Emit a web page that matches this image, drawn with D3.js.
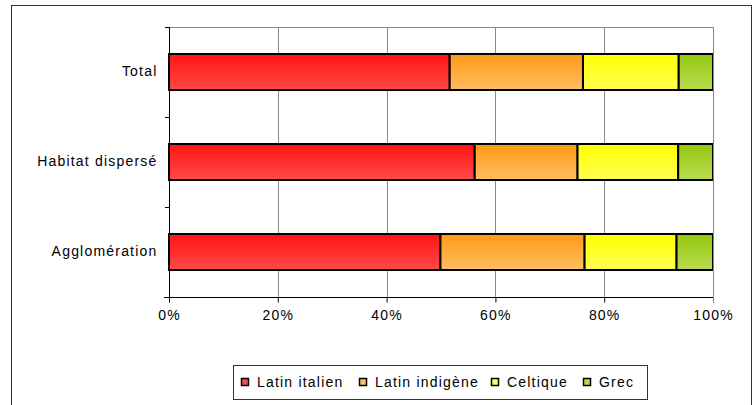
<!DOCTYPE html>
<html>
<head>
<meta charset="utf-8">
<script src="https://cdn.jsdelivr.net/npm/d3@7"></script>
<style>
  body { margin: 0; background: #fff; }
  text { font-family: "Liberation Sans", Arial, sans-serif; font-size: 14px; letter-spacing: 1.2px; fill: #000; }
</style>
</head>
<body>
<div id="chart"></div>
<script>

// Data

var categories = ['Total', 'Habitat dispersé', 'Agglomération'];
var seriesNames = ['Latin italien', 'Latin indigène', 'Celtique', 'Grec'];
var latinItalien = [51.6, 56.2, 49.9];
var latinIndigene = [24.5, 18.9, 26.5];
var celtique = [17.6, 18.5, 16.9];
var grec = [6.3, 6.4, 6.7];
var xTicks = [0, 20, 40, 60, 80, 100];

// Colours (top, bottom of gradient)

var colours = [
	['#ff1414', '#ff4a4a'],
	['#ff9a16', '#ffbe62'],
	['#ffff00', '#ffff55'],
	['#94c80e', '#b9dc52']
];

// Dimensions

var width = 753;
var height = 405;
var plot = { left: 169, right: 713, top: 27, bottom: 297 };

var svg = d3.select("#chart")
	.append("svg")
	.attr("width", width)
	.attr("height", height);

// Outer border

svg.append("rect")
	.attr("x", 11.5)
	.attr("y", 5.5)
	.attr("width", 740)
	.attr("height", 420)
	.attr("fill", "#fff")
	.attr("stroke", "#333")
	.attr("stroke-width", 1);

// Gradients

var defs = svg.append("defs");
colours.forEach(function (c, i) {
	var grad = defs.append("linearGradient")
		.attr("id", "grad" + i)
		.attr("x1", 0).attr("y1", 0)
		.attr("x2", 0).attr("y2", 1);
	grad.append("stop").attr("offset", "0%").attr("stop-color", c[0]);
	grad.append("stop").attr("offset", "100%").attr("stop-color", c[1]);
});

// Scales

var x = d3.scaleLinear()
	.domain([0, 100])
	.range([plot.left, plot.right]);

var y = d3.scaleBand()
	.domain(categories)
	.range([plot.top, plot.bottom])
	.paddingInner(0.6)
	.paddingOuter(0.3);

// Gridlines and plot frame

svg.append("g")
	.selectAll("line")
	.data(xTicks.slice(1))
	.enter()
	.append("line")
	.attr("x1", function (d) { return Math.round(x(d)) + 0.5; })
	.attr("x2", function (d) { return Math.round(x(d)) + 0.5; })
	.attr("y1", plot.top)
	.attr("y2", plot.bottom)
	.attr("stroke", "#8a8a8a")
	.attr("stroke-width", 1);

svg.append("line")
	.attr("x1", plot.left)
	.attr("x2", plot.right + 1)
	.attr("y1", plot.top + 0.5)
	.attr("y2", plot.top + 0.5)
	.attr("stroke", "#8a8a8a");

// Stacked data

var rows = categories.map(function (c, i) {
	return { category: c, values: [latinItalien[i], latinIndigene[i], celtique[i], grec[i]] };
});

var stack = d3.stack()
	.keys([0, 1, 2, 3])
	.value(function (d, k) { return d.values[k]; });

var layers = stack(rows);

svg.append("g")
	.selectAll("g")
	.data(layers)
	.enter()
	.append("g")
	.attr("fill", function (d, i) { return "url(#grad" + i + ")"; })
	.selectAll("rect")
	.data(function (d) { return d; })
	.enter()
	.append("rect")
	.attr("x", function (d) { return x(d[0]); })
	.attr("width", function (d) { return x(d[1]) - x(d[0]); })
	.attr("y", function (d) { return y(d.data.category); })
	.attr("height", y.bandwidth())
	.attr("stroke", "#000")
	.attr("stroke-width", 2);

// X axis

var xAxis = d3.axisBottom(x)
	.tickValues(xTicks)
	.tickSize(5)
	.tickPadding(8)
	.tickFormat(function (d) { return d + "%"; });

var gx = svg.append("g")
	.attr("transform", "translate(0," + (plot.bottom + 0.5) + ")")
	.call(xAxis);

gx.select(".domain").attr("stroke", "#000").attr("d", "M" + (plot.left - 5) + ",0H" + (plot.right + 1));
gx.selectAll(".tick line").attr("stroke", "#000");
gx.attr("font-family", null).attr("font-size", null);

// Y axis

var yAxis = d3.axisLeft(y).tickSize(0).tickPadding(12);

var gy = svg.append("g")
	.attr("transform", "translate(" + (plot.left + 0.5) + ",0)")
	.call(yAxis);

gy.select(".domain").attr("stroke", "#000").attr("d", "M0," + plot.top + "V" + plot.bottom);
gy.attr("font-family", null).attr("font-size", null);

// Category boundary ticks

var bounds = [plot.top].concat(categories.map(function (c) { return y(c) + y.bandwidth() + y.step() * y.paddingInner() / 2; }));

svg.append("g")
	.selectAll("line")
	.data(bounds.slice(0, 3))
	.enter()
	.append("line")
	.attr("x1", plot.left - 4)
	.attr("x2", plot.left)
	.attr("y1", function (d) { return Math.round(d) + 0.5; })
	.attr("y2", function (d) { return Math.round(d) + 0.5; })
	.attr("stroke", "#000");

// Plot right edge

svg.append("line")
	.attr("x1", plot.right + 0.5)
	.attr("x2", plot.right + 0.5)
	.attr("y1", plot.top)
	.attr("y2", plot.bottom + 5)
	.attr("stroke", "#8a8a8a");

// Legend

var legend = svg.append("g")
	.attr("class", "legend");

legend.append("rect")
	.attr("x", 233.5)
	.attr("y", 365.5)
	.attr("width", 414)
	.attr("height", 34)
	.attr("fill", "#fff")
	.attr("stroke", "#333");

var legendX = [241, 359, 491, 583];

var items = legend.selectAll("g.item")
	.data(seriesNames)
	.enter()
	.append("g")
	.attr("class", "item")
	.attr("transform", function (d, i) { return "translate(" + legendX[i] + ",382)"; });

items.append("rect")
	.attr("x", 0.5)
	.attr("y", -3.5)
	.attr("width", 7)
	.attr("height", 7)
	.attr("fill", function (d, i) { return colours[i][1]; })
	.attr("stroke", "#000")
	.attr("stroke-width", 1.5);

items.append("text")
	.attr("x", 16)
	.attr("dy", "0.35em")
	.text(function (d) { return d; });

</script>
</body>
</html>
